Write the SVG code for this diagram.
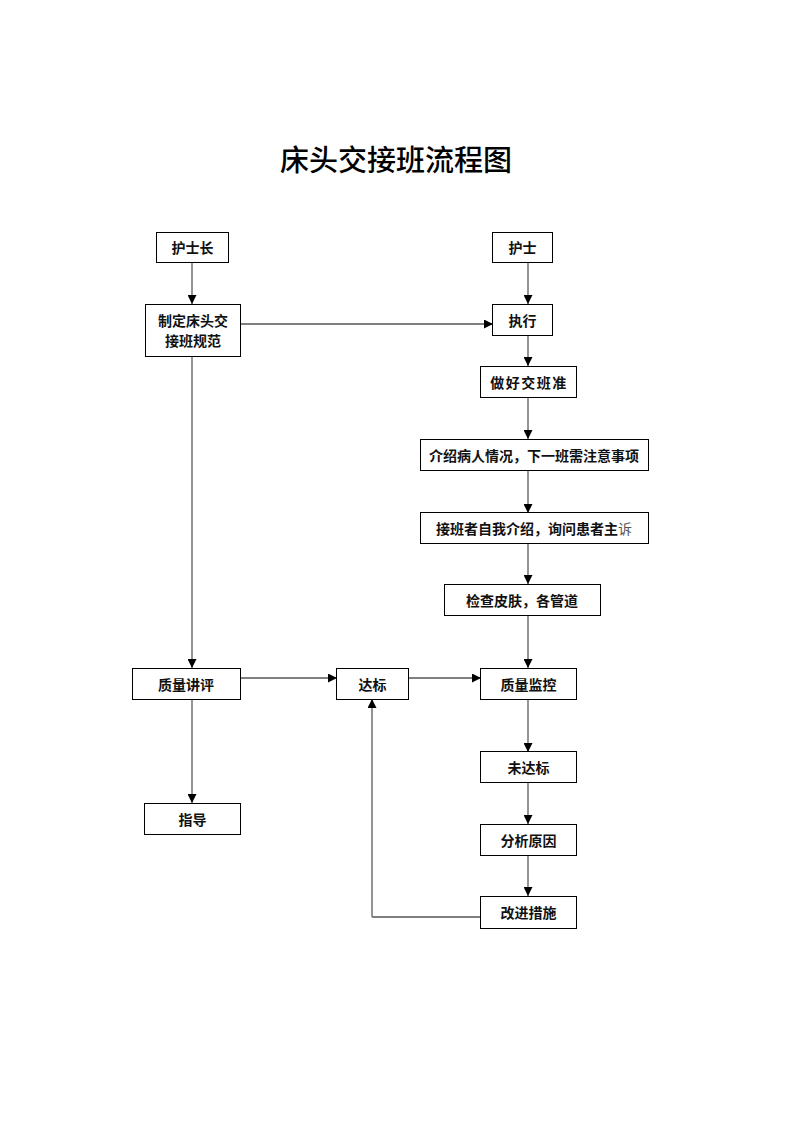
<svg xmlns="http://www.w3.org/2000/svg" width="793" height="1122" viewBox="0 0 793 1122">
<style>
.box{fill:#fff;stroke:#000;stroke-width:1}
.t{font-family:"Noto Sans CJK SC","Noto Sans",sans-serif;font-size:14px;font-weight:bold;fill:#111;text-anchor:middle;dominant-baseline:central}
.title{font-family:"Noto Sans CJK SC",sans-serif;font-size:29px;font-weight:500;fill:#000;text-anchor:middle;dominant-baseline:central}
.v{fill:none;stroke:#7a7a7a;stroke-width:1.6}
.h{fill:none;stroke:#000;stroke-width:1}
</style>
<defs>
<marker id="ah" viewBox="0 0 10 10" refX="10" refY="5" markerWidth="9" markerHeight="9" markerUnits="userSpaceOnUse" orient="auto">
<path d="M0,0 L10,5 L0,10 Z" fill="#000"/>
</marker>
<marker id="av" viewBox="0 0 10 10" refX="10" refY="5" markerWidth="9" markerHeight="9" markerUnits="userSpaceOnUse" orient="auto">
<path d="M0,0 L10,5 L0,10 Z" fill="#000"/>
</marker>
</defs>
<rect width="793" height="1122" fill="#fff"/>
<text class="title" x="396" y="158">床头交接班流程图</text>
<g id="connectors">
<line class="v" x1="192" y1="263" x2="192" y2="304" marker-end="url(#av)"/>
<line class="v" x1="528" y1="262" x2="528" y2="304" marker-end="url(#av)"/>
<line class="h" x1="240" y1="324" x2="493" y2="324" marker-end="url(#ah)"/>
<line class="v" x1="528" y1="335" x2="528" y2="366" marker-end="url(#av)"/>
<line class="v" x1="528" y1="397" x2="528" y2="439" marker-end="url(#av)"/>
<line class="v" x1="528" y1="470" x2="528" y2="513" marker-end="url(#av)"/>
<line class="v" x1="528" y1="543" x2="528" y2="584" marker-end="url(#av)"/>
<line class="v" x1="528" y1="616" x2="528" y2="668" marker-end="url(#av)"/>
<line class="v" x1="192" y1="357" x2="192" y2="668" marker-end="url(#av)"/>
<line class="h" x1="241" y1="678" x2="337" y2="678" marker-end="url(#ah)"/>
<line class="h" x1="409" y1="678" x2="481" y2="678" marker-end="url(#ah)"/>
<line class="v" x1="192" y1="699" x2="192" y2="803" marker-end="url(#av)"/>
<line class="v" x1="528" y1="699" x2="528" y2="752" marker-end="url(#av)"/>
<line class="v" x1="528" y1="782" x2="528" y2="824" marker-end="url(#av)"/>
<line class="v" x1="528" y1="855" x2="528" y2="896" marker-end="url(#av)"/>
<polyline class="h" points="480,917 372,917"/>
<line class="v" x1="372" y1="917" x2="372" y2="699" marker-end="url(#av)"/>
</g>
<g id="n1"><rect class="box" x="156.5" y="232.5" width="72" height="30"/><text class="t" x="192.5" y="247">护士长</text></g>
<g id="n2"><rect class="box" x="145.5" y="304.5" width="95" height="52"/><text class="t" x="193" y="320">制定床头交</text><text class="t" x="193" y="340">接班规范</text></g>
<g id="n3"><rect class="box" x="492.5" y="232.5" width="60" height="30"/><text class="t" x="522.5" y="247">护士</text></g>
<g id="n4"><rect class="box" x="492.5" y="304.5" width="60" height="31"/><text class="t" x="522.5" y="320">执行</text></g>
<g id="n5"><rect class="box" x="480.5" y="366.5" width="96" height="31"/><text class="t" x="529" y="382" letter-spacing="1.5">做好交班准</text></g>
<g id="n6"><rect class="box" x="420.5" y="439.5" width="228" height="31"/><text class="t" x="534" y="455">介绍病人情况，下一班需注意事项</text></g>
<g id="n7"><rect class="box" x="420.5" y="512.5" width="228" height="31"/><text class="t" x="534" y="528">接班者自我介绍，询问患者主<tspan font-weight="normal" fill="#555">诉</tspan></text></g>
<g id="n8"><rect class="box" x="444.5" y="584.5" width="156" height="31"/><text class="t" x="522" y="600">检查皮肤，各管道</text></g>
<g id="n9"><rect class="box" x="132.5" y="668.5" width="108" height="31"/><text class="t" x="186" y="684">质量讲评</text></g>
<g id="n10"><rect class="box" x="336.5" y="668.5" width="72" height="31"/><text class="t" x="372.5" y="684">达标</text></g>
<g id="n11"><rect class="box" x="480.5" y="668.5" width="96" height="31"/><text class="t" x="528.5" y="684">质量监控</text></g>
<g id="n12"><rect class="box" x="480.5" y="751.5" width="96" height="31"/><text class="t" x="528.5" y="767">未达标</text></g>
<g id="n13"><rect class="box" x="144.5" y="803.5" width="96" height="31"/><text class="t" x="192.5" y="819">指导</text></g>
<g id="n14"><rect class="box" x="480.5" y="824.5" width="96" height="31"/><text class="t" x="528.5" y="840">分析原因</text></g>
<g id="n15"><rect class="box" x="480.5" y="896.5" width="96" height="32"/><text class="t" x="528.5" y="912">改进措施</text></g>
</svg>
